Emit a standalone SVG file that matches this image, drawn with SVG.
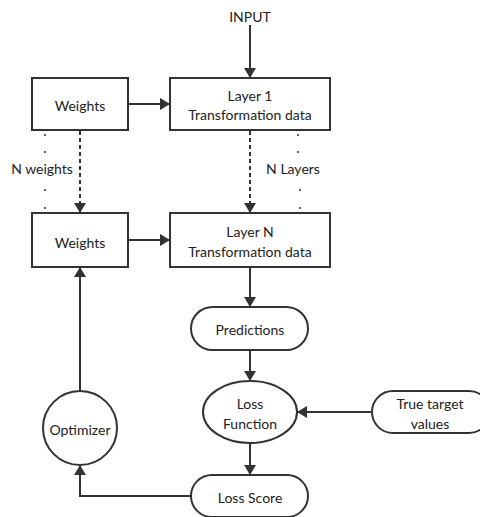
<svg xmlns="http://www.w3.org/2000/svg" width="480" height="517" viewBox="0 0 480 517">
<defs>
<style>
.s{fill:#fff;stroke:#333;stroke-width:2}
.t{font-family:Lato,"Open Sans",sans-serif;font-size:14px;fill:#222;text-anchor:middle;dominant-baseline:central}
.c{fill:none;stroke:#333;stroke-width:2}
.d{stroke-dasharray:4 3}
.dot{fill:#333}
</style>
<marker id="a" viewBox="0 0 10 12" refX="10" refY="6" markerWidth="10" markerHeight="12" markerUnits="userSpaceOnUse" orient="auto">
<path d="M0,0L10,6L0,12z" fill="#333"/>
</marker>
</defs>
<rect width="480" height="517" fill="#fff"/>
<g id="connectors">
<path class="c" d="M250,25V78" marker-end="url(#a)"/>
<path class="c" d="M128,104H170" marker-end="url(#a)"/>
<path class="c d" d="M80,131V213" marker-end="url(#a)"/>
<path class="c d" d="M250,131V213" marker-end="url(#a)"/>
<path class="c" d="M128,240H170" marker-end="url(#a)"/>
<path class="c" d="M250,267V307" marker-end="url(#a)"/>
<path class="c" d="M250,350V381" marker-end="url(#a)"/>
<path class="c" d="M372,412H297" marker-end="url(#a)"/>
<path class="c" d="M250,443V475" marker-end="url(#a)"/>
<path class="c" d="M191,496H80V465" marker-end="url(#a)"/>
<path class="c" d="M80,391V267" marker-end="url(#a)"/>
</g>
<g id="input"><text class="t" x="250" y="16">INPUT</text></g>
<g id="weights1"><rect class="s" x="32" y="78" width="96" height="52"/><text class="t" x="80" y="105">Weights</text></g>
<g id="layer1"><rect class="s" x="170" y="78" width="160" height="52"/><text class="t" x="250" y="95">Layer 1</text><text class="t" x="250" y="114">Transformation data</text></g>
<g id="nweights">
<circle class="dot" cx="45" cy="135" r="1"/><circle class="dot" cx="45" cy="152" r="1"/>
<text class="t" x="42" y="168">N weights</text>
<circle class="dot" cx="45" cy="190" r="1"/><circle class="dot" cx="45" cy="208" r="1"/>
</g>
<g id="nlayers">
<circle class="dot" cx="298" cy="135" r="1"/><circle class="dot" cx="298" cy="152" r="1"/>
<text class="t" x="293" y="168">N Layers</text>
<circle class="dot" cx="300" cy="190" r="1"/><circle class="dot" cx="300" cy="208" r="1"/>
</g>
<g id="weights2"><rect class="s" x="32" y="213" width="96" height="54"/><text class="t" x="80" y="242">Weights</text></g>
<g id="layerN"><rect class="s" x="170" y="213" width="160" height="54"/><text class="t" x="250" y="231">Layer N</text><text class="t" x="250" y="251">Transformation data</text></g>
<g id="predictions"><rect class="s" x="191" y="307" width="117" height="43" rx="21.5"/><text class="t" x="250" y="329">Predictions</text></g>
<g id="loss"><ellipse class="s" cx="250" cy="412" rx="47" ry="31"/><text class="t" x="250" y="403">Loss</text><text class="t" x="250" y="423">Function</text></g>
<g id="truetarget"><rect class="s" x="372" y="391" width="118" height="42" rx="21"/><text class="t" x="430" y="403">True target</text><text class="t" x="430" y="423">values</text></g>
<g id="lossscore"><rect class="s" x="191" y="475" width="117" height="42" rx="21"/><text class="t" x="250" y="497">Loss Score</text></g>
<g id="optimizer"><circle class="s" cx="80" cy="428" r="37"/><text class="t" x="80" y="429">Optimizer</text></g>
</svg>
